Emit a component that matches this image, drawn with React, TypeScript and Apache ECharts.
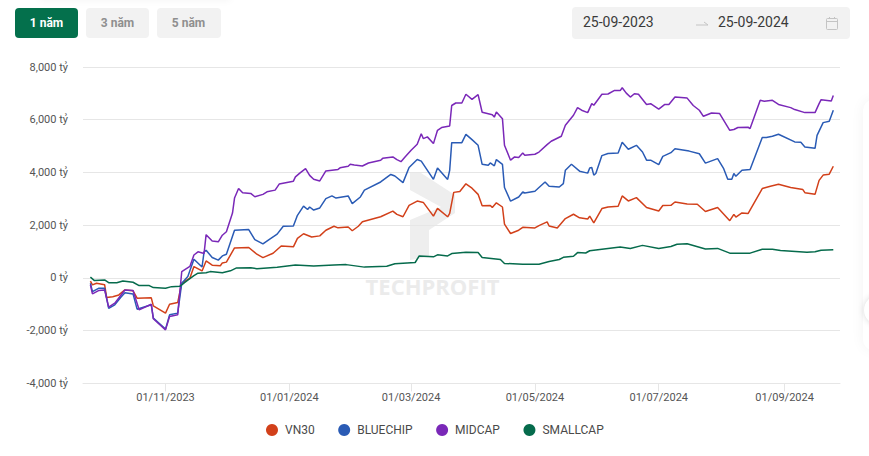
import React, { useEffect, useRef } from "react";
import * as echarts from "echarts";

const FONT = "Roboto, sans-serif";

const SERIES_NAMES = ["VN30", "BLUECHIP", "MIDCAP", "SMALLCAP"];
const COLORS = ["#d2401a", "#2a5bb5", "#7a28b8", "#066b4c"];
const RANGE_BUTTONS = ["1 năm", "3 năm", "5 năm"];
const DATE_FROM = "25-09-2023";
const DATE_TO = "25-09-2024";
// tick position in days since 25-09-2023
const TICK_DAYS = [37, 98, 158, 219, 280, 342];
const TICK_LABELS = ["01/11/2023", "01/01/2024", "01/03/2024", "01/05/2024", "01/07/2024", "01/09/2024"];

// [days since 25-09-2023, value in tỷ]
const VN30: [number, number][] = [
  [0,-125],[1,-265],[3,-200],[7,-255],[8,-745],[11,-710],[14,-645],[17,-455],[21,-490],[23,-770],[30,-755],[31,-1060],[37,-1335],[39,-1000],[43,-935],[45,-200],[49,-10],[51,430],[55,265],[57,645],[60,485],[64,460],[65,570],[67,600],[71,1140],[78,1155],[82,900],[85,770],[90,935],[94,1210],[100,1180],[102,1500],[105,1675],[109,1555],[113,1595],[116,1810],[120,1960],[122,1900],[127,1930],[129,1790],[132,1960],[134,2130],[143,2320],[149,2535],[151,2410],[154,2320],[157,2755],[161,2915],[164,2865],[169,2345],[171,2640],[176,2320],[177,2450],[179,3245],[182,3280],[185,3570],[188,3405],[191,3170],[193,2735],[197,2750],[198,2675],[200,2850],[203,2690],[204,2040],[207,1685],[211,1810],[213,1920],[219,1895],[221,1985],[225,2125],[226,1970],[230,1895],[234,2250],[238,2415],[241,2280],[245,2235],[246,2345],[248,2090],[252,2630],[255,2690],[260,2720],[262,3110],[265,2920],[269,3045],[274,2670],[280,2540],[282,2745],[286,2755],[288,2880],[294,2805],[299,2795],[303,2520],[309,2670],[315,2170],[317,2410],[318,2310],[321,2465],[324,2440],[331,3390],[335,3475],[339,3550],[345,3430],[351,3350],[352,3235],[357,3170],[359,3700],[361,3900],[364,3935],[366,4235],
];
const BLUECHIP: [number, number][] = [
  [0,-200],[1,-520],[4,-395],[7,-395],[9,-1155],[12,-1020],[15,-730],[17,-560],[21,-605],[23,-1185],[30,-1020],[31,-1525],[37,-1940],[39,-1400],[43,-1335],[45,-200],[48,50],[51,710],[55,415],[56,990],[57,1050],[60,775],[63,675],[65,835],[67,900],[71,1810],[78,1835],[81,1455],[85,1290],[88,1455],[92,1660],[95,1960],[100,1970],[102,2375],[105,2725],[107,2595],[108,2690],[110,2575],[113,2655],[116,3010],[119,3110],[121,3030],[127,3110],[129,2820],[133,3070],[135,3330],[143,3640],[148,3925],[150,3865],[154,3615],[157,4185],[161,4490],[163,4430],[169,3740],[171,4170],[176,3735],[177,4080],[178,5130],[183,5130],[185,5445],[188,5245],[191,5030],[193,4310],[196,4270],[197,4360],[199,4250],[200,4490],[203,4310],[204,3430],[207,2910],[211,3070],[213,3260],[214,3220],[219,3290],[221,3430],[224,3640],[226,3475],[231,3450],[233,3575],[234,4085],[237,4310],[241,4050],[245,3975],[246,4170],[247,4190],[248,3900],[249,3960],[252,4640],[255,4720],[260,4735],[262,5150],[265,4880],[269,5030],[272,4775],[274,4465],[276,4465],[280,4295],[282,4610],[286,4750],[288,4900],[295,4810],[300,4710],[303,4355],[309,4525],[312,4145],[314,3740],[316,3740],[317,3960],[318,3855],[321,4085],[325,4115],[331,5325],[333,5325],[336,5375],[339,5450],[347,5160],[350,5145],[352,4970],[357,4915],[358,5405],[361,5890],[364,5940],[366,6360],
];
const MIDCAP: [number, number][] = [
  [0,-265],[1,-605],[4,-480],[7,-455],[9,-1110],[12,-960],[17,-455],[21,-480],[24,-1210],[30,-1000],[31,-1550],[37,-1970],[39,-1465],[43,-1400],[45,240],[49,435],[51,870],[53,990],[56,930],[57,1640],[60,1400],[63,1370],[65,1620],[67,1750],[70,2460],[71,3030],[73,3395],[75,3230],[79,3205],[81,3080],[85,3170],[87,3265],[91,3330],[93,3560],[100,3670],[101,3835],[103,3965],[106,4145],[108,3890],[110,3740],[113,3680],[116,4060],[122,4115],[123,4175],[127,4235],[128,4310],[130,4285],[134,4245],[137,4360],[143,4465],[144,4535],[149,4590],[151,4485],[153,4410],[155,4590],[158,4845],[161,5070],[163,5470],[164,5285],[166,5350],[169,5095],[171,5600],[173,5705],[177,5765],[178,6540],[180,6635],[183,6635],[185,6965],[188,6775],[191,6955],[193,6285],[198,6190],[199,6100],[200,6290],[203,6040],[204,5030],[207,4465],[209,4590],[211,4565],[213,4735],[214,4650],[219,4690],[221,4775],[225,5055],[227,5185],[232,5375],[234,5790],[238,6170],[240,6460],[242,6360],[245,6270],[247,6610],[248,6550],[252,6965],[255,6975],[258,7105],[261,7105],[262,7215],[264,7010],[266,6860],[268,6985],[270,6965],[274,6580],[276,6610],[280,6400],[283,6580],[285,6580],[288,6860],[294,6820],[297,6540],[300,6360],[302,6130],[306,6255],[310,6235],[315,5600],[317,5630],[319,5705],[324,5715],[325,5665],[330,6735],[332,6700],[336,6735],[339,6580],[345,6460],[347,6385],[352,6270],[357,6270],[359,6610],[360,6760],[365,6710],[366,6920],
];
const SMALLCAP: [number, number][] = [
  [0,30],[2,-100],[7,-75],[9,-180],[13,-180],[16,-115],[21,-165],[24,-290],[29,-290],[31,-365],[37,-390],[40,-330],[44,-320],[47,-140],[51,85],[53,180],[57,200],[59,240],[65,200],[69,270],[72,380],[79,390],[82,350],[92,405],[101,490],[110,455],[120,490],[126,505],[135,410],[146,440],[150,535],[160,585],[162,835],[169,800],[171,875],[176,835],[178,925],[185,975],[191,965],[193,775],[202,700],[204,550],[213,520],[221,520],[226,625],[231,700],[233,780],[238,820],[240,960],[244,945],[246,1030],[261,1170],[266,1120],[272,1235],[280,1120],[286,1190],[289,1280],[294,1300],[303,1100],[309,1120],[315,940],[325,940],[331,1090],[336,1090],[340,1040],[353,975],[357,990],[360,1050],[366,1070],
];
const SERIES_VALUES = [VN30, BLUECHIP, MIDCAP, SMALLCAP];

export default function App() {
  const ref = useRef<HTMLDivElement>(null);
  useEffect(() => {
    const chart = echarts.init(ref.current!, null, { renderer: "svg" });
    const buttons: any[] = [];
    RANGE_BUTTONS.forEach((label, i) => {
      const x = [15, 86, 157][i];
      buttons.push({
        type: "rect",
        shape: { x, y: 8, width: i === 2 ? 64 : 63, height: 30, r: 4 },
        style: { fill: i === 0 ? "#04704c" : "#f2f2f2" },
      });
      buttons.push({
        type: "text",
        x: x + 31.5,
        y: 22.5,
        style: {
          text: label,
          fill: i === 0 ? "#ffffff" : "#8f8f8f",
          font: `bold 12px ${FONT}`,
          align: "center",
          verticalAlign: "middle",
        },
      });
    });
    chart.setOption({
      animation: false,
      textStyle: { fontFamily: FONT },
      color: COLORS,
      grid: { left: 83, top: 67, width: 757, height: 316.4, containLabel: false },
      legend: {
        data: SERIES_NAMES,
        left: 261,
        top: 419,
        icon: "circle",
        itemWidth: 12,
        itemHeight: 12,
        itemGap: 23.5,
        itemStyle: { borderWidth: 0 },
        lineStyle: { width: 0 },
        textStyle: { color: "#4a4a4a", fontSize: 12, fontFamily: FONT, padding: [0, 0, 0, 2] },
      },
      xAxis: {
        type: "value",
        min: -3.65,
        max: 369.3,
        splitLine: { show: false },
        axisLine: { onZero: false, lineStyle: { color: "#e6e6e6" } },
        axisTick: { customValues: TICK_DAYS, length: 8, lineStyle: { color: "#e6e6e6" } },
        axisLabel: {
          customValues: TICK_DAYS,
          color: "#555",
          fontSize: 11,
          margin: 9,
          formatter: (v: number) => TICK_LABELS[TICK_DAYS.indexOf(v)],
        },
      },
      yAxis: {
        type: "value",
        min: -4000,
        max: 8000,
        interval: 2000,
        axisLine: { show: false },
        axisTick: { show: false },
        splitLine: { lineStyle: { color: "#e6e6e6" } },
        axisLabel: {
          color: "#555",
          fontSize: 11,
          margin: 15,
          formatter: (v: number) => `${v.toLocaleString("en-US")} tỷ`,
        },
      },
      series: SERIES_NAMES.map((name, i) => ({
        name,
        type: "line",
        showSymbol: false,
        symbol: "none",
        smooth: false,
        lineStyle: { width: 1.5, color: COLORS[i] },
        itemStyle: { color: COLORS[i] },
        data: SERIES_VALUES[i],
      })),
      graphic: [
        {
          type: "polygon",
          silent: true,
          shape: {
            points: [[410, 173], [421, 173], [455, 195], [455, 213], [429, 230], [429, 257], [410, 260], [410, 220], [441, 207], [410, 190]],
          },
          style: { fill: "#eeeeee" },
        },
        {
          type: "text",
          silent: true,
          x: 432.5,
          y: 286,
          style: {
            text: "TECHPROFIT",
            fill: "#ebebeb",
            font: `bold 22px "Open Sans", sans-serif`,
            align: "center",
            verticalAlign: "middle",
          },
        },
        ...buttons,
        { type: "rect", shape: { x: 572, y: 7, width: 278, height: 32, r: 4 }, style: { fill: "#f2f2f2" } },
        { type: "text", x: 583, y: 22, style: { text: DATE_FROM, fill: "#3a3a3a", font: `14px ${FONT}`, verticalAlign: "middle" } },
        { type: "text", x: 718, y: 22, style: { text: DATE_TO, fill: "#3a3a3a", font: `14px ${FONT}`, verticalAlign: "middle" } },
        { type: "polyline", shape: { points: [[696, 25], [708, 25], [704, 22]] }, style: { stroke: "#c4c4c4", fill: "none", lineWidth: 1 } },
        { type: "rect", shape: { x: 826.5, y: 18.5, width: 11, height: 11, r: 1 }, style: { stroke: "#c4c4c4", fill: "none", lineWidth: 1 } },
        { type: "line", shape: { x1: 826.5, y1: 21.5, x2: 837.5, y2: 21.5 }, style: { stroke: "#c4c4c4", lineWidth: 1 } },
        { type: "line", shape: { x1: 829.5, y1: 17, x2: 829.5, y2: 19 }, style: { stroke: "#c4c4c4", lineWidth: 1 } },
        { type: "line", shape: { x1: 834.5, y1: 17, x2: 834.5, y2: 19 }, style: { stroke: "#c4c4c4", lineWidth: 1 } },
      ],
    });
    return () => chart.dispose();
  }, []);
  return (
    <div style={{ position: "absolute", left: 0, top: 0, width: 869, height: 456, overflow: "hidden", background: "#fff" }}>
      <div style={{ position: "absolute", left: 40, top: -12, width: 190, height: 12, boxShadow: "0 0 8px rgba(0,0,0,0.05)" }} />
      <div style={{ position: "absolute", left: 863, top: 100, width: 60, height: 250, borderRadius: 10, background: "#fff", boxShadow: "0 0 14px rgba(0,0,0,0.05)" }} />
      <div style={{ position: "absolute", left: 864, top: 295, width: 30, height: 30, borderRadius: 15, background: "#fff", boxShadow: "0 0 6px rgba(0,0,0,0.15)" }} />
      <div ref={ref} style={{ position: "absolute", left: 0, top: 0, width: 869, height: 456 }} />
    </div>
  );
}
